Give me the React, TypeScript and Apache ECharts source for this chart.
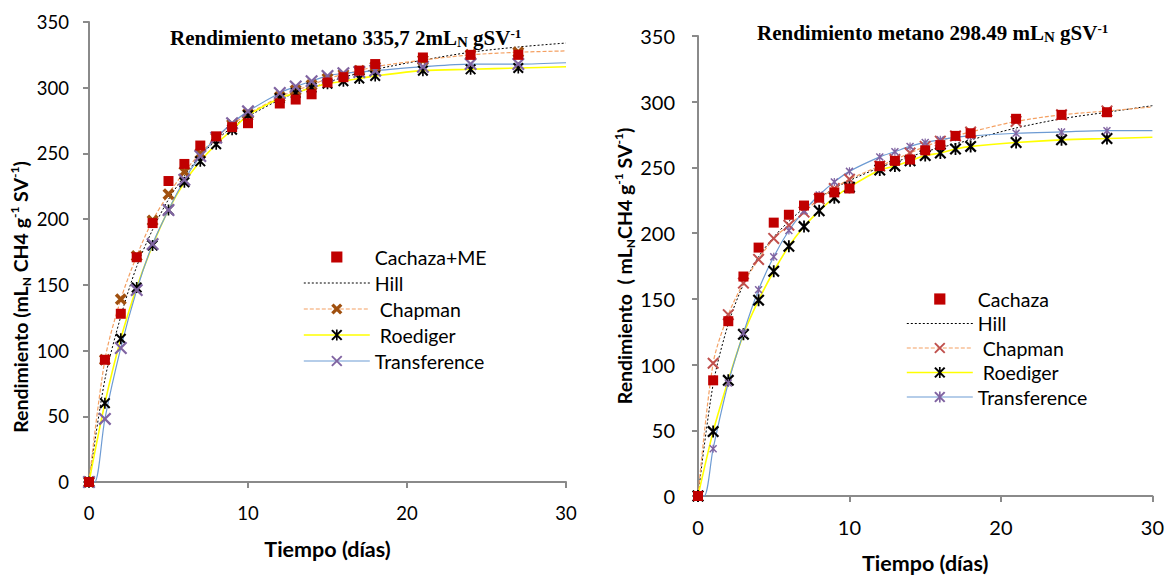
import React, { useEffect, useRef } from 'react';
import * as echarts from 'echarts';

// ---------- data ----------
const DAYS = [0, 1, 2, 3, 4, 5, 6, 7, 8, 9, 10, 12, 13, 14, 15, 16, 17, 18, 21, 24, 27];
const END_DAY = 30;
const X_TICKS = [0, 10, 20, 30];
const Y_TICKS = [0, 50, 100, 150, 200, 250, 300, 350];

// Panel A – Cachaza+ME
const cachazaME = [0, 93, 128, 171, 197, 229, 242, 256, 263, 270, 273, 288, 291, 295, 304, 308, 313, 318, 323, 325, 325];
const hillA = [0, 78, 126, 164, 192, 215, 233, 248, 260, 270, 278, 291, 296, 300, 304, 308, 311, 314, 321, 327, 331];
const hillAEnd = 334;
const chapmanA = [0, 93, 139, 172, 199, 219, 236, 250, 262, 272, 280, 293, 298, 302, 307, 310, 313, 316, 321, 325, 327];
const chapmanAEnd = 328;
const roedigerA = [0, 60, 109, 148, 180, 207, 228, 244, 257, 268, 279, 292, 296, 300, 303, 305, 307, 309, 313, 314, 315];
const roedigerAEnd = 316;
const transfA = [0, 48, 102, 146, 181, 207, 230, 248, 262, 273, 282, 296, 301, 305, 309, 311, 312, 313, 316, 318, 318];
const transfAEnd = 319;
const transfALag = 0.35;

// Panel B – Cachaza
const cachaza = [0, 88, 133, 167, 189, 208, 214, 221, 227, 231, 234, 251, 255, 256, 263, 267, 274, 276, 287, 290, 292];
const hillB = [0, 85, 131, 161, 182, 197, 209, 219, 227, 234, 240, 250, 254, 258, 262, 265, 268, 271, 280, 287, 292];
const hillBEnd = 297;
const chapmanB = [0, 101, 138, 162, 180, 196, 206, 216, 226, 234, 241, 251, 256, 261, 266, 270, 274, 277, 285, 290, 293];
const chapmanBEnd = 296;
const roedigerB = [0, 49, 88, 123, 149, 171, 190, 205, 217, 227, 235, 248, 251, 255, 259, 261, 264, 266, 269, 271, 272];
const roedigerBEnd = 273;
const transfB = [0, 36, 86, 124, 157, 182, 202, 217, 229, 239, 247, 258, 262, 266, 269, 271, 273, 274, 276, 277, 278];
const transfBEnd = 278;
const transfBLag = 0.4;

const LEGEND_LABELS: Record<string, string> = {
  'Cachaza+ME': 'Cachaza+ME',
  'Hill A': 'Hill',
  'Chapman A': 'Chapman',
  'Roediger A': 'Roediger',
  'Transference A': 'Transference',
  'Cachaza': 'Cachaza',
  'Hill B': 'Hill',
  'Chapman B': 'Chapman',
  'Roediger B': 'Roediger',
  'Transference B': 'Transference',
};

// ---------- styles ----------
const SANS = 'Lato, "Open Sans", "DejaVu Sans", sans-serif';
const SERIF = '"Liberation Serif", "Times New Roman", serif';
const AXIS_COLOR = '#8a8a8a';

const X_THIN = 'path://M0,1.2L1.2,0L10,8.8L8.8,10ZM8.8,0L10,1.2L1.2,10L0,8.8Z';
const X_BOLD = 'path://M0,2.1L2.1,0L10,7.9L7.9,10ZM7.9,0L10,2.1L2.1,10L0,7.9Z';
const STAR = 'path://M0,1.3L1.3,0L10,8.7L8.7,10ZM8.7,0L10,1.3L1.3,10L0,8.7ZM4.25,0H5.75V10H4.25Z';

function modelPoints(values: number[], end: number, lag?: number) {
  const pts: any[] = values.map((v, i) => [DAYS[i], v]);
  if (lag !== undefined) pts.splice(1, 0, { value: [lag, 0], symbol: 'none' });
  pts.push({ value: [END_DAY, end], symbol: 'none' });
  return pts;
}

function titleOpt(main: string, left: number, top: number) {
  return {
    left,
    top,
    padding: 0,
    text: `{a|${main}}{sub|N}{a| gSV}{sup|-1}`,
    textStyle: {
      rich: {
        a: { fontFamily: SERIF, fontWeight: 'bold', fontSize: 21, lineHeight: 22, color: '#000' },
        sub: { fontFamily: SERIF, fontWeight: 'bold', fontSize: 15, lineHeight: 7, color: '#000', verticalAlign: 'bottom' },
        sup: { fontFamily: SERIF, fontWeight: 'bold', fontSize: 13, lineHeight: 12, color: '#000', verticalAlign: 'top' },
      },
    },
  };
}

function yNameRich(size: number) {
  return {
    b: { fontFamily: SANS, fontWeight: 'bold', fontSize: size, lineHeight: 24, color: '#000' },
    bs: { fontFamily: SANS, fontWeight: 'bold', fontSize: 12, lineHeight: 10, color: '#000', verticalAlign: 'bottom' },
    bp: { fontFamily: SANS, fontWeight: 'bold', fontSize: 12, lineHeight: 12, color: '#000', verticalAlign: 'top' },
  };
}

function xAxisOpt(gridIndex: number, fontSize: number) {
  return {
    type: 'value',
    gridIndex,
    min: X_TICKS[0],
    max: X_TICKS[X_TICKS.length - 1],
    interval: 10,
    name: 'Tiempo (días)',
    nameLocation: 'middle',
    nameGap: 55,
    nameTextStyle: { fontFamily: SANS, fontWeight: 'bold', fontSize: 21.5, color: '#000', lineHeight: 24 },
    axisLine: { show: true, lineStyle: { color: AXIS_COLOR, width: 2 } },
    axisTick: { show: true, inside: false, length: 6, lineStyle: { color: AXIS_COLOR, width: 2 } },
    axisLabel: { fontFamily: SANS, fontSize, color: '#000', margin: 21 },
    splitLine: { show: false },
  };
}

function yAxisOpt(gridIndex: number, fontSize: number, name: string, nameGap: number, padding: number[], margin: number) {
  return {
    type: 'value',
    gridIndex,
    min: Y_TICKS[0],
    max: Y_TICKS[Y_TICKS.length - 1],
    interval: 50,
    name,
    nameLocation: 'middle',
    nameGap,
    nameTextStyle: { rich: yNameRich(19.5), padding },
    axisLine: { show: true, lineStyle: { color: AXIS_COLOR, width: 2 } },
    axisTick: { show: true, inside: false, length: 6, lineStyle: { color: AXIS_COLOR, width: 2 } },
    axisLabel: { fontFamily: SANS, fontSize, color: '#000', margin },
    splitLine: { show: false },
  };
}

function legendOpt(left: number, top: number, gap: number, names: string[]) {
  return {
    orient: 'vertical',
    left,
    top,
    padding: 0,
    itemWidth: 66,
    itemHeight: 14,
    itemGap: gap,
    itemTextGap: 10,
    selectedMode: false,
    lineStyle: { width: 'inherit' },
    textStyle: { fontFamily: SANS, fontSize: 19.5, lineHeight: 20, color: '#000' },
    formatter: (n: string) => LEGEND_LABELS[n] || n,
    data: names.map((n) => {
      if (n.startsWith('Hill')) return { name: n, itemStyle: { opacity: 0 } };
      if (n.startsWith('Chapman') || n.startsWith('Roediger')) return { name: n, textStyle: { padding: [0, 0, 0, 5] } };
      return { name: n };
    }),
  };
}

function lineSeries(name: string, idx: number, data: any[], opts: any) {
  return {
    name,
    type: 'line',
    xAxisIndex: idx,
    yAxisIndex: idx,
    data,
    smooth: 0.3,
    showAllSymbol: true,
    ...opts,
  };
}

export default function App() {
  const ref = useRef<HTMLDivElement>(null);

  useEffect(() => {
    document.body.style.margin = '0';
    if (!ref.current) return;
    const chart = echarts.init(ref.current, undefined, { renderer: 'svg' });

    const option: any = {
      animation: false,
      backgroundColor: '#ffffff',
      title: [
        titleOpt('Rendimiento metano 335,7 2mL', 170, 27),
        titleOpt('Rendimiento metano 298.49 mL', 757, 22),
      ],
      grid: [
        { left: 89, right: 601, top: 22, bottom: 98 },
        { left: 698, right: 14, top: 36, bottom: 80 },
      ],
      xAxis: [xAxisOpt(0, 18.5), xAxisOpt(1, 20)],
      yAxis: [
        yAxisOpt(0, 18.5, '{b|Rendimiento (mL}{bs|N}{b| CH4 g}{bp|-1}{b| SV}{bp|-1}{b|)}', 57, [0, 90, 0, 0], 20),
        yAxisOpt(1, 20, '{b|Rendimiento  ( mL}{bs|N}{b|CH4 g}{bp|-1}{b| SV}{bp|-1}{b|)}', 59, [0, 0, 0, 0], 23),
      ],
      legend: [
        legendOpt(303, 247, 6, ['Cachaza+ME', 'Hill A', 'Chapman A', 'Roediger A', 'Transference A']),
        legendOpt(906, 289, 4.5, ['Cachaza', 'Hill B', 'Chapman B', 'Roediger B', 'Transference B']),
      ],
      series: [
        // Panel A
        lineSeries('Hill A', 0, modelPoints(hillA, hillAEnd), {
          symbol: 'none',
          itemStyle: { color: '#000' },
          lineStyle: { color: '#000', width: 1, type: [2, 2] },
        }),
        lineSeries('Chapman A', 0, modelPoints(chapmanA, chapmanAEnd), {
          symbol: X_BOLD,
          symbolSize: 12,
          itemStyle: { color: '#A0500F', borderWidth: 0 },
          lineStyle: { color: '#F4A062', width: 1.2, type: [4, 2] },
        }),
        lineSeries('Roediger A', 0, modelPoints(roedigerA, roedigerAEnd), {
          symbol: STAR,
          symbolSize: 11,
          itemStyle: { color: '#000', borderWidth: 0 },
          lineStyle: { color: '#FFFF00', width: 1.6 },
        }),
        lineSeries('Transference A', 0, modelPoints(transfA, transfAEnd, transfALag), {
          symbol: X_THIN,
          symbolSize: 13,
          itemStyle: { color: '#8064A2', borderWidth: 0 },
          lineStyle: { color: '#6D9BD3', width: 1.2 },
        }),
        lineSeries('Cachaza+ME', 0, DAYS.map((d, i) => [d, cachazaME[i]]), {
          symbol: 'rect',
          symbolSize: 10,
          smooth: false,
          itemStyle: { color: '#C00000', borderWidth: 0 },
          lineStyle: { width: 0, opacity: 0 },
        }),
        // Panel B
        lineSeries('Hill B', 1, modelPoints(hillB, hillBEnd), {
          symbol: 'none',
          itemStyle: { color: '#000' },
          lineStyle: { color: '#000', width: 1, type: [2, 2] },
        }),
        lineSeries('Chapman B', 1, modelPoints(chapmanB, chapmanBEnd), {
          symbol: X_THIN,
          symbolSize: 12,
          itemStyle: { color: '#C0504D', borderWidth: 0 },
          lineStyle: { color: '#F4A062', width: 1.2, type: [4, 2] },
        }),
        lineSeries('Roediger B', 1, modelPoints(roedigerB, roedigerBEnd), {
          symbol: STAR,
          symbolSize: 12,
          itemStyle: { color: '#000', borderWidth: 0 },
          lineStyle: { color: '#FFFF00', width: 1.6 },
        }),
        lineSeries('Transference B', 1, modelPoints(transfB, transfBEnd, transfBLag), {
          symbol: STAR,
          symbolSize: 8,
          itemStyle: { color: '#8064A2', borderWidth: 0 },
          lineStyle: { color: '#6D9BD3', width: 1.2 },
        }),
        lineSeries('Cachaza', 1, DAYS.map((d, i) => [d, cachaza[i]]), {
          symbol: 'rect',
          symbolSize: 10,
          smooth: false,
          itemStyle: { color: '#C00000', borderWidth: 0 },
          lineStyle: { width: 0, opacity: 0 },
        }),
      ],
    };

    chart.setOption(option);
    return () => chart.dispose();
  }, []);

  return <div ref={ref} style={{ width: 1167, height: 580 }} />;
}
